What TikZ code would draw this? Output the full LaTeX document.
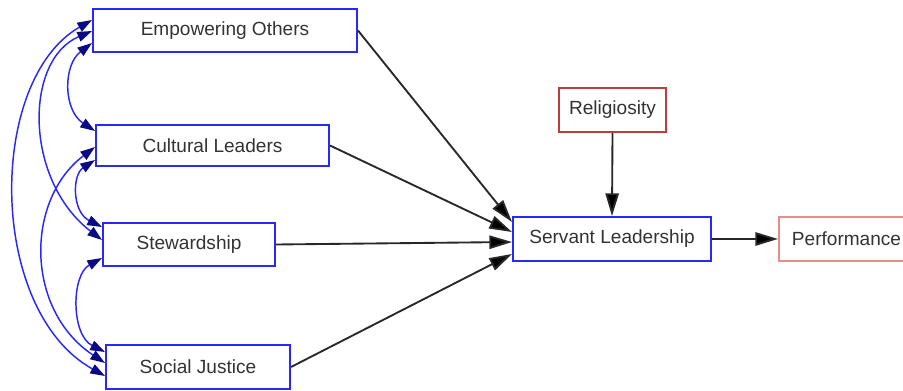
\documentclass[tikz,border=0pt]{standalone}
\usepackage{fontspec}
\setmainfont{Liberation Sans}
\usetikzlibrary{arrows.meta,calc}
\definecolor{txt}{RGB}{51,51,51}
\definecolor{boxblue}{RGB}{40,40,250}
\definecolor{relred}{RGB}{190,60,60}
\definecolor{perfred}{RGB}{235,140,140}
\definecolor{tipnavy}{RGB}{10,10,130}
\definecolor{pathgray}{RGB}{40,40,40}
\begin{document}
\begin{tikzpicture}[x=0.75pt,y=-0.75pt,
  every node/.style={font=\fontsize{14.3}{17}\selectfont, text=txt},
  var/.style={draw=boxblue, line width=1.5pt, fill=white, rectangle, inner sep=0pt},
  path/.style={draw=pathgray, line width=1.4pt, -{Triangle[length=17pt,width=10pt,fill=black]}},
  cov/.style={draw=boxblue, line width=1.1pt,
    {Triangle[length=11pt,width=7.5pt,color=tipnavy]}-{Triangle[length=11pt,width=7.5pt,color=tipnavy]}}
]
\fill[white] (0,0) rectangle (903,391);
\useasboundingbox (0,0) rectangle (903,391);

% indicator variables
\node[var, minimum width=264*0.75pt, minimum height=43*0.75pt] (EO) at (225,30.5) {Empowering Others};
\node[var, minimum width=233*0.75pt, minimum height=41*0.75pt] (CL) at (212.5,145.5) {Cultural Leaders};
\node[var, minimum width=172*0.75pt, minimum height=43*0.75pt] (ST) at (189,244.5) {Stewardship};
\node[var, minimum width=184*0.75pt, minimum height=44*0.75pt] (SJ) at (198,367) {Social Justice};

% latent and outcome variables
\node[var, draw=relred, minimum width=107*0.75pt, minimum height=44*0.75pt] (REL) at (612.5,110) {Religiosity};
\node[var, minimum width=198*0.75pt, minimum height=44*0.75pt] (SL) at (612,239) {Servant Leadership};
\node[var, draw=perfred, minimum width=135*0.75pt, minimum height=44*0.75pt] (PERF) at (846.5,239) {Performance};

% directed paths
\draw[path] (EO.east) -- ($(SL.west)+(0,-17)$);
\draw[path] (CL.east) -- ($(SL.west)+(0,-7)$);
\draw[path] (ST.east) -- ($(SL.west)+(0,3)$);
\draw[path] (SJ.east) -- ($(SL.west)+(0,15)$);
\draw[path] (REL.south) -- (SL.north);
\draw[path] (SL.east) -- (PERF.west);

% covariances among indicators
\draw[cov] ($(EO.west)+(0,12.5)$) .. controls +(-29,22) and +(-32,-21) .. ($(CL.west)+(0,-14.5)$);
\draw[cov] ($(EO.west)+(0,0.5)$) .. controls +(-68,29) and +(-78,-60) .. ($(ST.west)+(0,-4.5)$);
\draw[cov] ($(EO.west)+(0,-10.5)$) .. controls +(-105,60) and +(-118,-66) .. ($(SJ.west)+(0,9)$);
\draw[cov] ($(CL.west)+(0,14.5)$) .. controls +(-23,15) and +(-30,-15) .. ($(ST.west)+(0,-17.5)$);
\draw[cov] ($(CL.west)+(0,1.5)$) .. controls +(-70,53) and +(-80,-53) .. ($(SJ.west)+(0,-4)$);
\draw[cov] ($(ST.west)+(0,13.5)$) .. controls +(-31,17) and +(-34,-17) .. ($(SJ.west)+(0,-15)$);
\end{tikzpicture}
\end{document}
